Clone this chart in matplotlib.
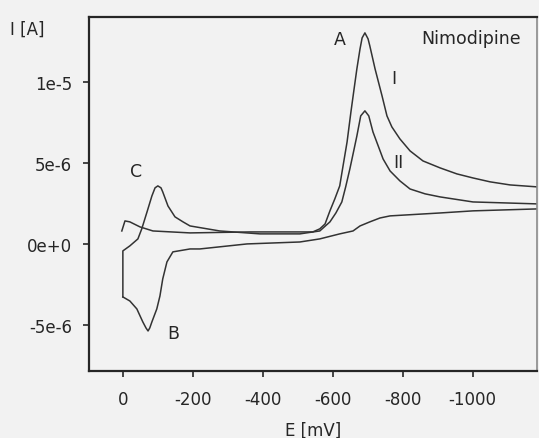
import matplotlib
matplotlib.use("Agg")
import matplotlib.pyplot as plt

# Cyclic voltammogram of nimodipine, current read in microamps
# first cathodic scan (curve I)
scan1_E = [3, -6, -20, -49, -86, -192, -363, -543, -563, -578, -592, -606,
           -620, -629, -641, -652, -660, -669, -678, -684, -692, -701, -706,
           -721, -741, -755, -769, -792, -821, -858, -907, -955, -1001, -1050,
           -1107, -1184]
scan1_I = [0.80, 1.42, 1.36, 1.05, 0.80, 0.68, 0.74, 0.74, 0.93, 1.23, 2.04, 2.78,
           3.58, 4.75, 6.29, 8.14, 9.40, 10.80, 12.03, 12.71, 13.02, 12.65, 12.22,
           10.80, 9.13, 7.90, 7.22, 6.48, 5.74, 5.12, 4.69, 4.32, 4.07, 3.83,
           3.64, 3.52]

# anodic return scan (peak B)
back_E = [-1184, -1001, -907, -764, -735, -706, -678, -658, -620, -563, -506,
          -355, -220, -192, -143, -126, -114, -106, -97, -83, -77, -72, -66,
          -57, -40, -20, 0]
back_I = [2.16, 2.04, 1.91, 1.73, 1.60, 1.36, 1.11, 0.80, 0.62, 0.31, 0.12,
          0.0, -0.31, -0.31, -0.49, -1.11, -2.16, -3.21, -4.01, -4.81, -5.18,
          -5.37, -5.18, -4.81, -4.01, -3.52, -3.27]

# second cathodic scan (curve II, peak C)
scan2_E = [0, 0, -20, -43, -54, -69, -83, -92, -100, -109, -114, -129, -149,
           -172, -192, -277, -392, -506, -563, -592, -609, -626, -637, -649,
           -660, -669, -680, -692, -703, -715, -744, -764, -792, -821, -864,
           -907, -1001, -1093, -1184]
scan2_I = [-3.27, -0.43, -0.12, 0.31, 0.93, 1.97, 2.96, 3.46, 3.58, 3.46, 3.21,
           2.34, 1.67, 1.36, 1.11, 0.80, 0.62, 0.62, 0.80, 1.36, 1.91, 2.59,
           3.52, 4.63, 5.74, 6.66, 7.90, 8.21, 7.90, 6.91, 5.24, 4.50, 3.89,
           3.39, 3.09, 2.90, 2.59, 2.53, 2.47]

x_ticks = [0, -200, -400, -600, -800, -1000]
x_labels = ["0", "-200", "-400", "-600", "-800", "-1000"]
y_ticks = [1e-5, 5e-6, 0, -5e-6]
y_labels = ["1e-5", "5e-6", "0e+0", "-5e-6"]

# peak labels: (text, E, I in uA)
peak_labels = [("A", -621, 12.65), ("C", -37, 4.50), ("B", -143, -5.49),
               ("I", -775, 10.24), ("II", -787, 5.06)]

bg = "#f2f2f2"
ink = "#262626"

fig = plt.figure(figsize=(5.39, 4.39), dpi=100, facecolor=bg)
ax = fig.add_axes([0.165, 0.1526, 0.8313, 0.8064], facecolor=bg)

for E, I in [(scan1_E, scan1_I), (back_E, back_I), (scan2_E, scan2_I)]:
    ax.plot(E, [v * 1e-6 for v in I], color="#333333", lw=1.1,
            solid_joinstyle="round")

ax.set_xlim(97, -1184)
ax.set_ylim(-7.84e-6, 14.0e-6)

ax.set_xticks(x_ticks)
ax.set_xticklabels(x_labels)
ax.set_yticks(y_ticks)
ax.set_yticklabels(y_labels)
ax.tick_params(direction="out", length=4, width=1.2, colors=ink,
               labelsize=12, pad=8)
ax.tick_params(axis="x", pad=10)

for side in ["left", "bottom", "top"]:
    ax.spines[side].set_linewidth(1.6)
    ax.spines[side].set_color(ink)
ax.spines["right"].set_linewidth(1.2)
ax.spines["right"].set_color("#8a8a8a")

for txt, E, I in peak_labels:
    ax.text(E, I * 1e-6, txt, ha="center", va="center", fontsize=12.5, color=ink)
ax.text(-995, 12.7e-6, "Nimodipine", ha="center", va="center",
        fontsize=12.5, color=ink)

ax.set_xlabel("E [mV]", fontsize=12, color=ink, labelpad=9)
fig.text(0.0186, 0.932, "I [A]", ha="left", va="center", fontsize=12, color=ink)

fig.savefig("out.png", dpi=100, facecolor=bg)
